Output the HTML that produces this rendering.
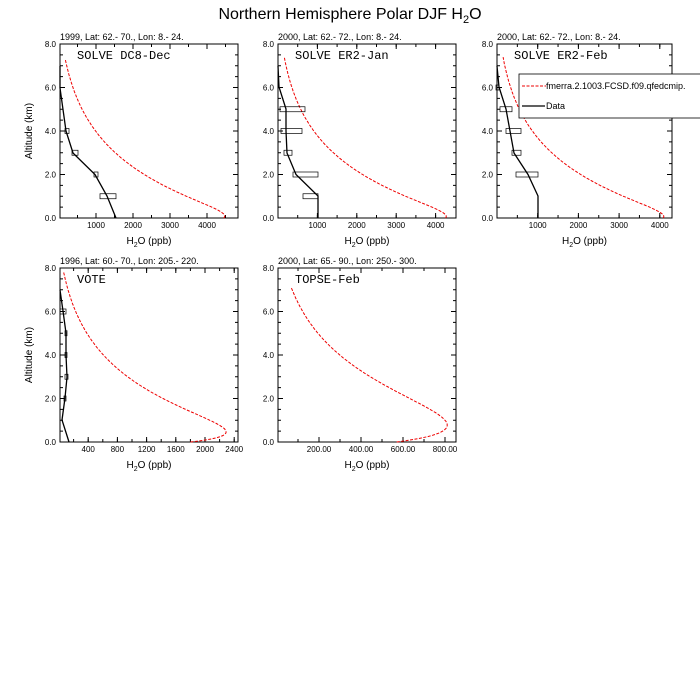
<!DOCTYPE html>
<html><head><meta charset="utf-8"><style>
body{margin:0;background:#fff;}
svg{display:block;font-family:"Liberation Sans",sans-serif;}
.m{font-family:"Liberation Mono",monospace;}
</style></head><body>
<svg id="s" width="700" height="700" xmlns="http://www.w3.org/2000/svg">
<rect width="700" height="700" fill="#fff"/>
<text x="350" y="19" font-size="16" text-anchor="middle">Northern Hemisphere Polar DJF H<tspan font-size="11" dy="4">2</tspan><tspan dy="-4">O</tspan></text>
<g id="g"></g>
</svg>
<script>
const NS="http://www.w3.org/2000/svg";
const g=document.getElementById('g');
function el(t,a,txt){const e=document.createElementNS(NS,t);for(const k in a)e.setAttribute(k,a[k]);if(txt!==undefined)e.innerHTML=txt;g.appendChild(e);return e;}
function panel(p){
 const {x0,x1,y0,y1}=p;
 el('rect',{x:x0,y:y0,width:x1-x0,height:y1-y0,fill:'none',stroke:'#000','stroke-width':1});
 const sy=(y1-y0)/8;
 for(let i=0;i<=16;i++){const y=y1-i*sy/2;const L=i%4==0?5:3;
  el('line',{x1:x0,y1:y,x2:x0+L,y2:y,stroke:'#000'});
  el('line',{x1:x1,y1:y,x2:x1-L,y2:y,stroke:'#000'});
  if(i%4==0)el('text',{x:x0-4,y:y+3,'font-size':8,'text-anchor':'end'},(i/2).toFixed(1));}
 for(const t of p.minor){if(t>x1-1)continue;el('line',{x1:t,y1:y1,x2:t,y2:y1-3,stroke:'#000'});el('line',{x1:t,y1:y0,x2:t,y2:y0+3,stroke:'#000'});}
 for(const [t,l] of p.major){el('line',{x1:t,y1:y1,x2:t,y2:y1-5,stroke:'#000'});el('line',{x1:t,y1:y0,x2:t,y2:y0+5,stroke:'#000'});
  el('text',{x:t,y:y1+10,'font-size':8,'text-anchor':'middle'},l);}
 el('text',{x:(x0+x1)/2,y:y1+26,'font-size':10,'text-anchor':'middle'},'H<tspan font-size="7" dy="3">2</tspan><tspan dy="-3">O (ppb)</tspan>');
 el('text',{x:x0,y:y0-4,'font-size':9},p.sub);
 el('text',{x:x0+17,y:y0+15,'font-size':12,class:'m'},p.name);
 if(p.ylab)el('text',{x:0,y:0,'font-size':10,'text-anchor':'middle',transform:`translate(${x0-28},${(y0+y1)/2}) rotate(-90)`},'Altitude (km)');
 const [A,H,c,D,w,zt]=p.f;const pts=[];
 for(let z=0;z<=zt+1e-9;z+=0.05){const v=A*Math.exp(-z/H)-c-D*Math.exp(-z/w);pts.push((p.ox+v*p.sx).toFixed(1)+','+(y1-z*sy).toFixed(1));}
 el('polyline',{points:pts.join(' '),fill:'none',stroke:'#e00','stroke-width':1,'stroke-dasharray':'3,1.5'});
 if(p.blk)el('polyline',{points:p.blk,fill:'none',stroke:'#000','stroke-width':1.3});
 for(const b of (p.boxes||[])){el('rect',{x:b[1],y:y1-b[0]*sy-2.5,width:b[2]-b[1],height:5,fill:'none',stroke:'#000','stroke-width':0.7});}
}
function ticks(o,s,vals){return vals.map(v=>o+v*s);}
function range(a,b,st){const r=[];for(let v=a;v<=b+1e-9;v+=st)r.push(v);return r;}
panel({x0:60,x1:238,y0:44,y1:218,ox:59,sx:0.037,f:[5300,2.6,150,700,0.25,7.3],sub:'1999, Lat: 62.- 70., Lon: 8.- 24.',name:'SOLVE DC8-Dec',ylab:1,
 minor:ticks(59,0.037,range(500,4500,500)),major:[1000,2000,3000,4000].map(v=>[59+v*0.037,v]),
 blk:'60,66 60,88 66,131 73,153 95,174.5 107,196 116,218',
 boxes:[[4,65,69],[3,72,78],[2,94,98],[1,100,116]]});
panel({x0:278,x1:456,y0:44,y1:218,ox:278,sx:0.0394,f:[5000,2.5,100,650,0.25,7.4],sub:'2000, Lat: 62.- 72., Lon: 8.- 24.',name:'SOLVE ER2-Jan',
 minor:ticks(278,0.0394,range(500,4500,500)),major:[1000,2000,3000,4000].map(v=>[278+v*0.0394,v]),
 blk:'278,66 279,87 286,109 286,131 287,153 296,174.5 318,196 318,218',
 boxes:[[5,280,305],[4,281,302],[3,284,292],[2,293,318],[1,303,318]]});
panel({x0:497,x1:672,y0:44,y1:218,ox:497,sx:0.0407,f:[4800,2.5,100,620,0.25,7.4],sub:'2000, Lat: 62.- 72., Lon: 8.- 24.',name:'SOLVE ER2-Feb',
 minor:ticks(497,0.0407,range(500,4000,500)),major:[1000,2000,3000,4000].map(v=>[497+v*0.0407,v]),
 blk:'497,66 499,87 506,109 510,131 514,153 528,174.5 538,196 538,218',
 boxes:[[6,496,499],[5,500,512],[4,506,521],[3,512,521],[2,516,538]]});
el('rect',{x:519,y:74,width:190,height:44,fill:'#fff',stroke:'#000','stroke-width':0.8});
el('line',{x1:522,y1:86,x2:546,y2:86,stroke:'#e00','stroke-dasharray':'3,1.5'});
el('text',{x:546,y:89,'font-size':9},'fmerra.2.1003.FCSD.f09.qfedcmip.');
el('line',{x1:522,y1:106,x2:545,y2:106,stroke:'#000','stroke-width':1.3});
el('text',{x:546,y:109,'font-size':9},'Data');
panel({x0:60,x1:238,y0:268,y1:442,ox:59,sx:0.073,f:[3300,2.6,100,1400,0.35,7.8],sub:'1996, Lat: 60.- 70., Lon: 205.- 220.',name:'VOTE',ylab:1,
 minor:ticks(59,0.073,range(200,2400,200)),major:[400,800,1200,1600,2000,2400].map(v=>[59+v*0.073,v]),
 blk:'60,290 63,311 66,333 66,355 67,377 65,398 62,420 69,442',
 boxes:[[6,60,66],[5,65,67],[4,65,67],[3,65,68],[2,64,66]]});
panel({x0:278,x1:456,y0:268,y1:442,ox:277,sx:0.21,f:[1500,2.7,40,890,0.66,7.1],sub:'2000, Lat: 65.- 90., Lon: 250.- 300.',name:'TOPSE-Feb',
 minor:ticks(277,0.21,range(100,800,100)),major:[200,400,600,800].map(v=>[277+v*0.21,v.toFixed(2)])});
</script>
</body></html>
